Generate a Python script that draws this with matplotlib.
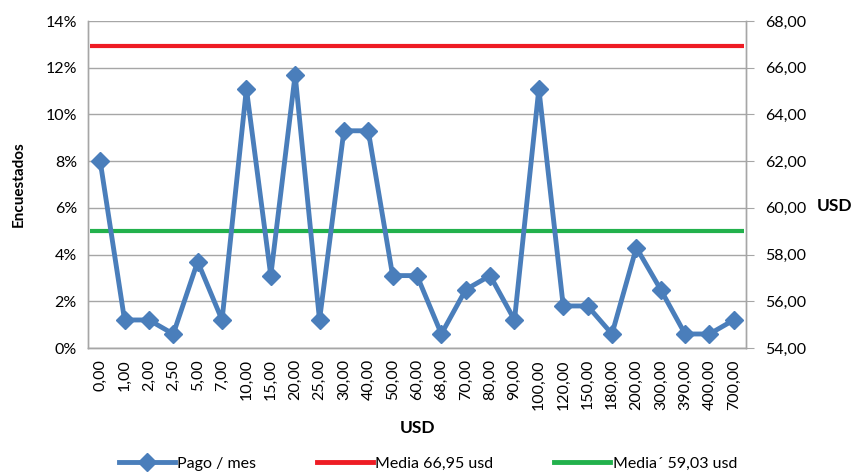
import matplotlib
matplotlib.use("Agg")
import matplotlib.pyplot as plt
from matplotlib.ticker import FuncFormatter
from matplotlib.lines import Line2D

plt.rcParams['font.family'] = ['Lato', 'DejaVu Sans']

categories = ["0,00", "1,00", "2,00", "2,50", "5,00", "7,00", "10,00", "15,00", "20,00",
              "25,00", "30,00", "40,00", "50,00", "60,00", "68,00", "70,00", "80,00",
              "90,00", "100,00", "120,00", "150,00", "180,00", "200,00", "300,00",
              "390,00", "400,00", "700,00"]
pago_pct = [8.0, 1.2, 1.2, 0.6, 3.7, 1.2, 11.1, 3.1, 11.7, 1.2, 9.3, 9.3, 3.1, 3.1,
            0.6, 2.5, 3.1, 1.2, 11.1, 1.8, 1.8, 0.6, 4.3, 2.5, 0.6, 0.6, 1.2]
media = 66.95
media2 = 59.03

blue = "#4a7ebb"
fig = plt.figure(figsize=(8.56, 4.72), dpi=100)
ax = fig.add_axes([0.1028, 0.2627, 0.7687, 0.6928])
ax2 = ax.twinx()

x = list(range(len(categories)))
ax.plot(x, [v / 100 for v in pago_pct], color=blue, lw=3.5, marker='D', ms=9,
        mec=blue, mfc=blue, zorder=5, clip_on=False)
ax.set_zorder(ax2.get_zorder() + 1)
ax.patch.set_visible(False)

ax.set_xlim(-0.5, len(categories) - 0.5)
ax.set_ylim(0, 0.14)
ax.set_yticks([i / 100 for i in range(0, 15, 2)])
ax.yaxis.set_major_formatter(FuncFormatter(lambda v, p: f"{v*100:.0f}%"))
ax.grid(axis='y', color='#a6a6a6', lw=1)
ax.set_axisbelow(True)
ax.set_xticks(x)
ax.set_xticklabels(categories, rotation=90, fontsize=11.5)
ax.tick_params(axis='x', length=0, pad=8)
ax.tick_params(axis='y', length=0, labelsize=11.5, pad=8)

ax2.set_ylim(54, 68)
ax2.set_yticks(range(54, 69, 2))
ax2.yaxis.set_major_formatter(FuncFormatter(lambda v, p: f"{v:.2f}".replace('.', ',')))
ax2.tick_params(axis='y', direction='out', length=6, color='#a6a6a6', labelsize=11.5, pad=8)
ax2.hlines(media, -0.4, len(categories) - 0.6, color='#ee1c24', lw=3)
ax2.hlines(media2, -0.4, len(categories) - 0.6, color='#22b14c', lw=3)

for a in (ax, ax2):
    for s in ['top']:
        a.spines[s].set_visible(False)
    for s in ['left', 'right', 'bottom']:
        a.spines[s].set_color('#a6a6a6')
        a.spines[s].set_linewidth(1)

ax.set_ylabel("Encuestados", fontsize=11, fontweight='bold')
ax.yaxis.set_label_coords(-0.094, 0.5)
ax.set_xlabel("USD", fontsize=12.5, fontweight='bold')
ax.xaxis.set_label_coords(0.5, -0.22)
ax2.set_ylabel("USD", fontsize=12.5, fontweight='bold', rotation=0, va='center', ha='left')
ax2.yaxis.set_label_coords(1.107, 0.435)

handles = [Line2D([], [], color=blue, lw=3.5, marker='D', ms=9),
           Line2D([], [], color='#ee1c24', lw=3.5),
           Line2D([], [], color='#22b14c', lw=3.5)]
labels = ["Pago / mes", "Media 66,95 usd", "Media´ 59,03 usd"]
fig.legend(handles, labels, loc='lower center', bbox_to_anchor=(0.5, -0.028), ncol=3,
           frameon=False, fontsize=11.5, handlelength=3.5, handletextpad=0.15,
           columnspacing=3.8)

fig.savefig("out.png", dpi=100)
